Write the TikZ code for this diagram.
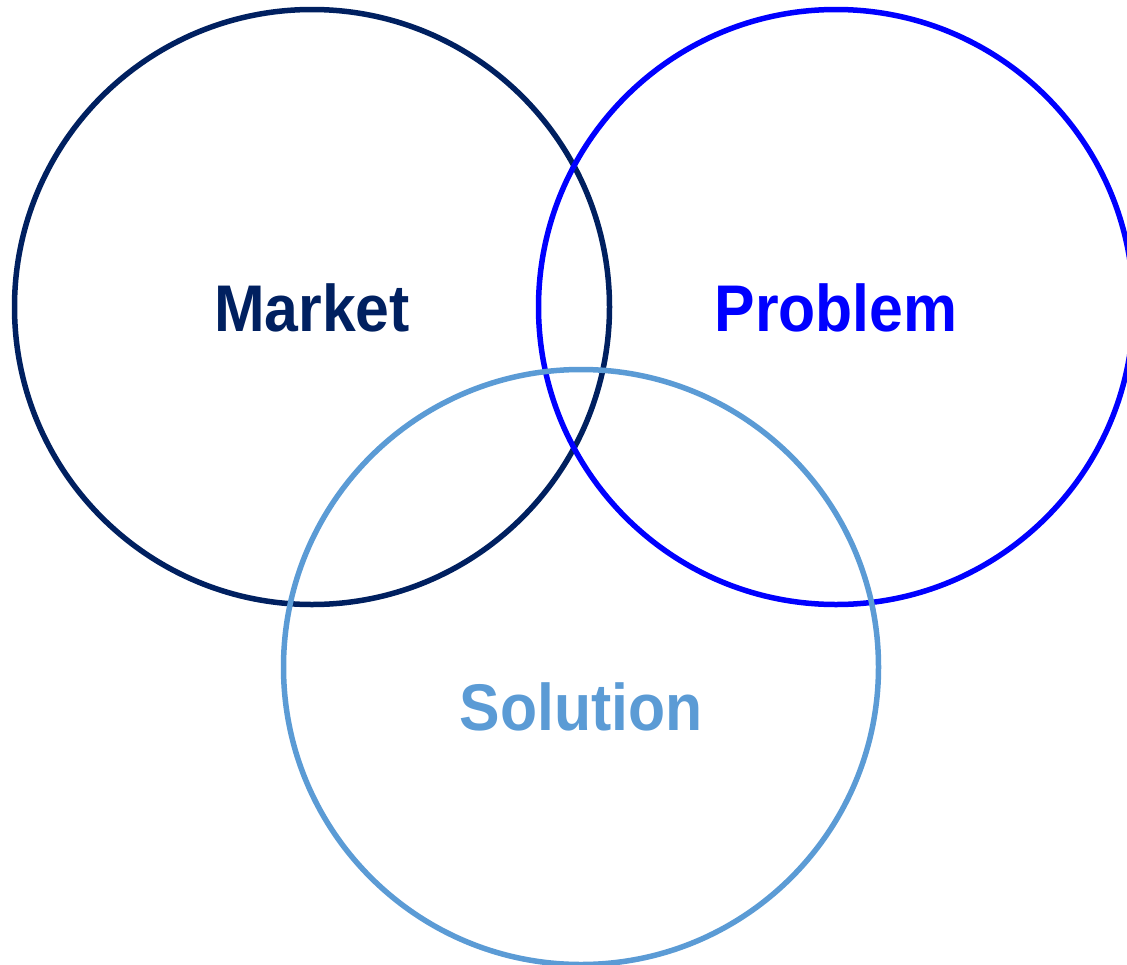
\documentclass[tikz,border=0pt]{standalone}
\usepackage{fontspec}
\setmainfont{Liberation Sans}
\definecolor{navy}{HTML}{002060}
\definecolor{pblue}{HTML}{0000FF}
\definecolor{lblue}{HTML}{5B9BD5}
\begin{document}
\begin{tikzpicture}[x=1pt,y=-1pt,
  ring/.style={line width=5.5pt},
  lbl/.style={font=\fontsize{66}{66}\selectfont\bfseries, inner sep=0pt, xscale=0.92}]
\useasboundingbox (0,0) rectangle (1127,964);
\begin{scope}
\clip (0,0) rectangle (1127,964);
\draw[ring, navy] (312,307) circle [radius=297.5];
\draw[ring, pblue] (836,307) circle [radius=297.5];
\draw[ring, lblue] (581,667) circle [radius=297.5];
\end{scope}
\node[lbl, text=navy] (market) at (312,308) {Market};
\node[lbl, text=pblue] (problem) at (836,308) {Problem};
\node[lbl, text=lblue] (solution) at (581,707) {Solution};
\end{tikzpicture}
\end{document}
